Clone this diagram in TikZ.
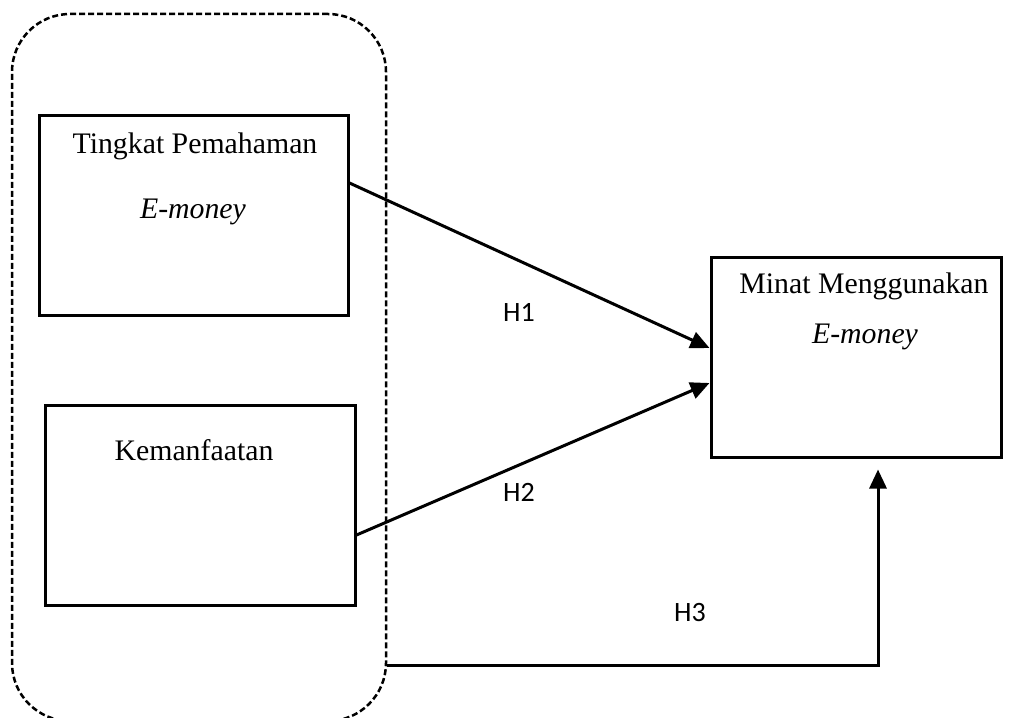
\documentclass[tikz,border=0pt]{standalone}
\usepackage{fontspec}
\setmainfont{Liberation Serif}
\newfontfamily\labelfont{Carlito}
\usetikzlibrary{arrows.meta}
\begin{document}
\begin{tikzpicture}[x=1pt,y=-1pt,
  varbox/.style={draw,line width=3pt,minimum width=#1,minimum height=200pt,inner sep=0pt},
  vartext/.style={anchor=base,inner sep=0pt,font=\fontsize{29.8}{36}\selectfont},
  hyp/.style={inner sep=0pt,font=\labelfont\fontsize{28}{34}\selectfont},
  link/.style={line width=3pt,-{Triangle[length=19pt,width=17pt]}},
  group/.style={draw,line width=2.5pt,dash pattern=on 6pt off 3pt,rounded corners=58pt,
    minimum width=374pt,minimum height=707pt,inner sep=0pt}]
\useasboundingbox (0,0) rectangle (1011,717);
\clip (0,0) rectangle (1011,717);

% dashed group around the independent variables
\node[group] (grp) at (199,367.5) {};

% variable boxes
\node[varbox=309pt] (b1) at (193.5,215) {};
\node[varbox=310pt] (b2) at (200,505) {};
\node[varbox=290pt] (b3) at (856,357) {};

% box texts
\node[vartext] (t1a) at (195,153) {Tingkat Pemahaman};
\node[vartext] (t1b) at (193,218) {\itshape E-money};
\node[vartext] (t2) at (194,460) {Kemanfaatan};
\node[vartext] (t3a) at (864,293) {Minat Menggunakan};
\node[vartext] (t3b) at (865,343) {\itshape E-money};

% hypothesis arrows
\draw[link] ([yshift=32pt]b1.east) -- ([yshift=9pt]b3.west);
\draw[link] ([yshift=-30pt]b2.east) -- ([yshift=-26pt]b3.west);
\draw[link] ([yshift=-297.5pt]grp.east) -| ([xshift=22pt,yshift=-11pt]b3.south);

% hypothesis labels
\node[hyp] (h1) at (519,312.5) {H1};
\node[hyp] (h2) at (519,492.5) {H2};
\node[hyp] (h3) at (690,612.5) {H3};
\end{tikzpicture}
\end{document}
